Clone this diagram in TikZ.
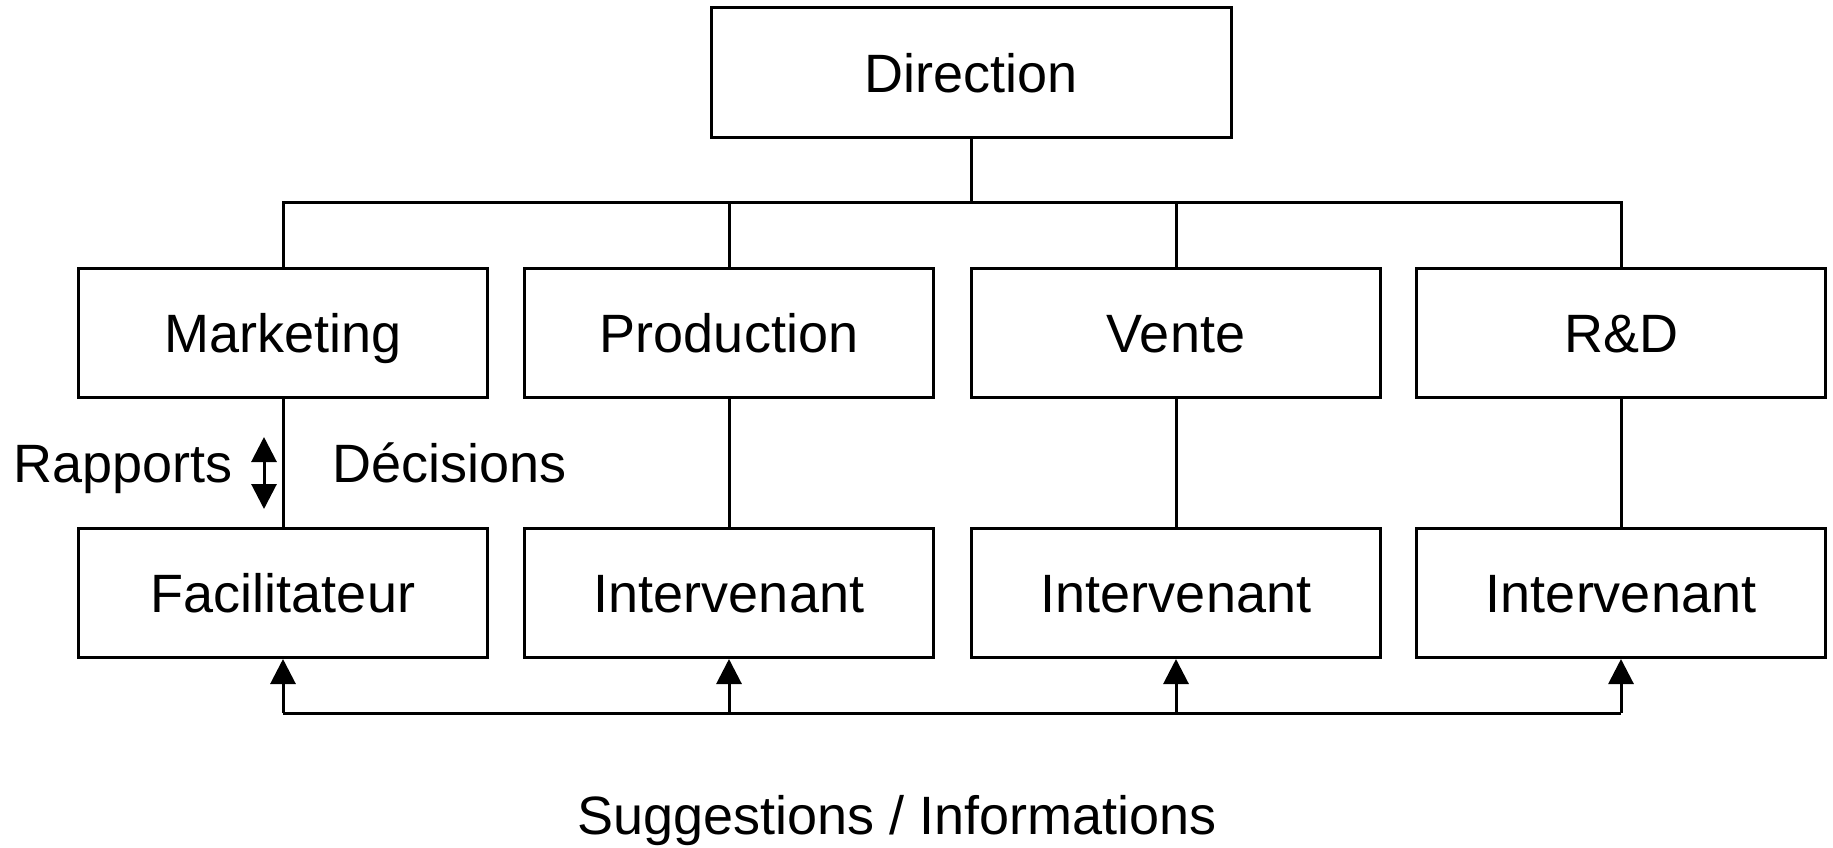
\documentclass[tikz,border=0pt]{standalone}
\usepackage{fontspec}
\setmainfont{Liberation Sans}
\usetikzlibrary{arrows.meta}
\begin{document}
\begin{tikzpicture}[x=1pt,y=-1pt,
  line width=3pt,
  every node/.style={font=\fontsize{54}{64}\selectfont},
  box/.style={draw, line width=3pt, minimum width=409pt, minimum height=129pt,
    inner sep=0pt, anchor=center, text height=39pt, text depth=0pt},
  link/.style={draw, line width=3pt},
  up/.style={link, -{Triangle[length=25pt,width=25pt]}},
  both/.style={link, {Triangle[length=25pt,width=25pt]}-{Triangle[length=25pt,width=25pt]}}]
\useasboundingbox (0,0) rectangle (1833,848);

% top level
\node[box, minimum width=520pt, minimum height=130pt] (dir) at (971,73) {Direction};

% departments
\node[box] (mkt) at (283,333) {Marketing};
\node[box] (prod) at (729,333) {Production};
\node[box] (vente) at (1176,333) {Vente};
\node[box] (rd) at (1621,333) {R\&D};

% second row
\node[box] (fac) at (283,593) {Facilitateur};
\node[box] (int1) at (729,593) {Intervenant};
\node[box] (int2) at (1176,593) {Intervenant};
\node[box] (int3) at (1621,593) {Intervenant};

% distribution bus under the direction
\coordinate (bus) at (971,202);
\draw[link] (dir.south) -- (bus);
\draw[link] (mkt.north) -- (mkt.north |- bus) -- (rd.north |- bus) -- (rd.north);
\draw[link] (prod.north |- bus) -- (prod.north);
\draw[link] (vente.north |- bus) -- (vente.north);

% department to field links
\draw[link] (mkt.south) -- (fac.north);
\draw[link] (prod.south) -- (int1.north);
\draw[link] (vente.south) -- (int2.north);
\draw[link] (rd.south) -- (int3.north);

% reports / decisions
\node[anchor=base west, inner sep=0pt] (rap) at (12,482) {Rapports};
\node[anchor=base west, inner sep=0pt] (dec) at (331,482) {Décisions};
\coordinate (rtop) at (264,437);
\coordinate (rbot) at (264,509);
\draw[both] (rtop) -- (rbot);

% feedback loop at the bottom
\coordinate (fb1) at (283,713);
\coordinate (fb2) at (729,713);
\coordinate (fb3) at (1176,713);
\coordinate (fb4) at (1621,713);
\draw[link] (fb1) -- (fb4);
\draw[up] (fb1) -- (fac.south);
\draw[up] (fb2) -- (int1.south);
\draw[up] (fb3) -- (int2.south);
\draw[up] (fb4) -- (int3.south);

\node[anchor=base, inner sep=0pt] (sugg) at (897,834) {Suggestions / Informations};
\end{tikzpicture}
\end{document}
